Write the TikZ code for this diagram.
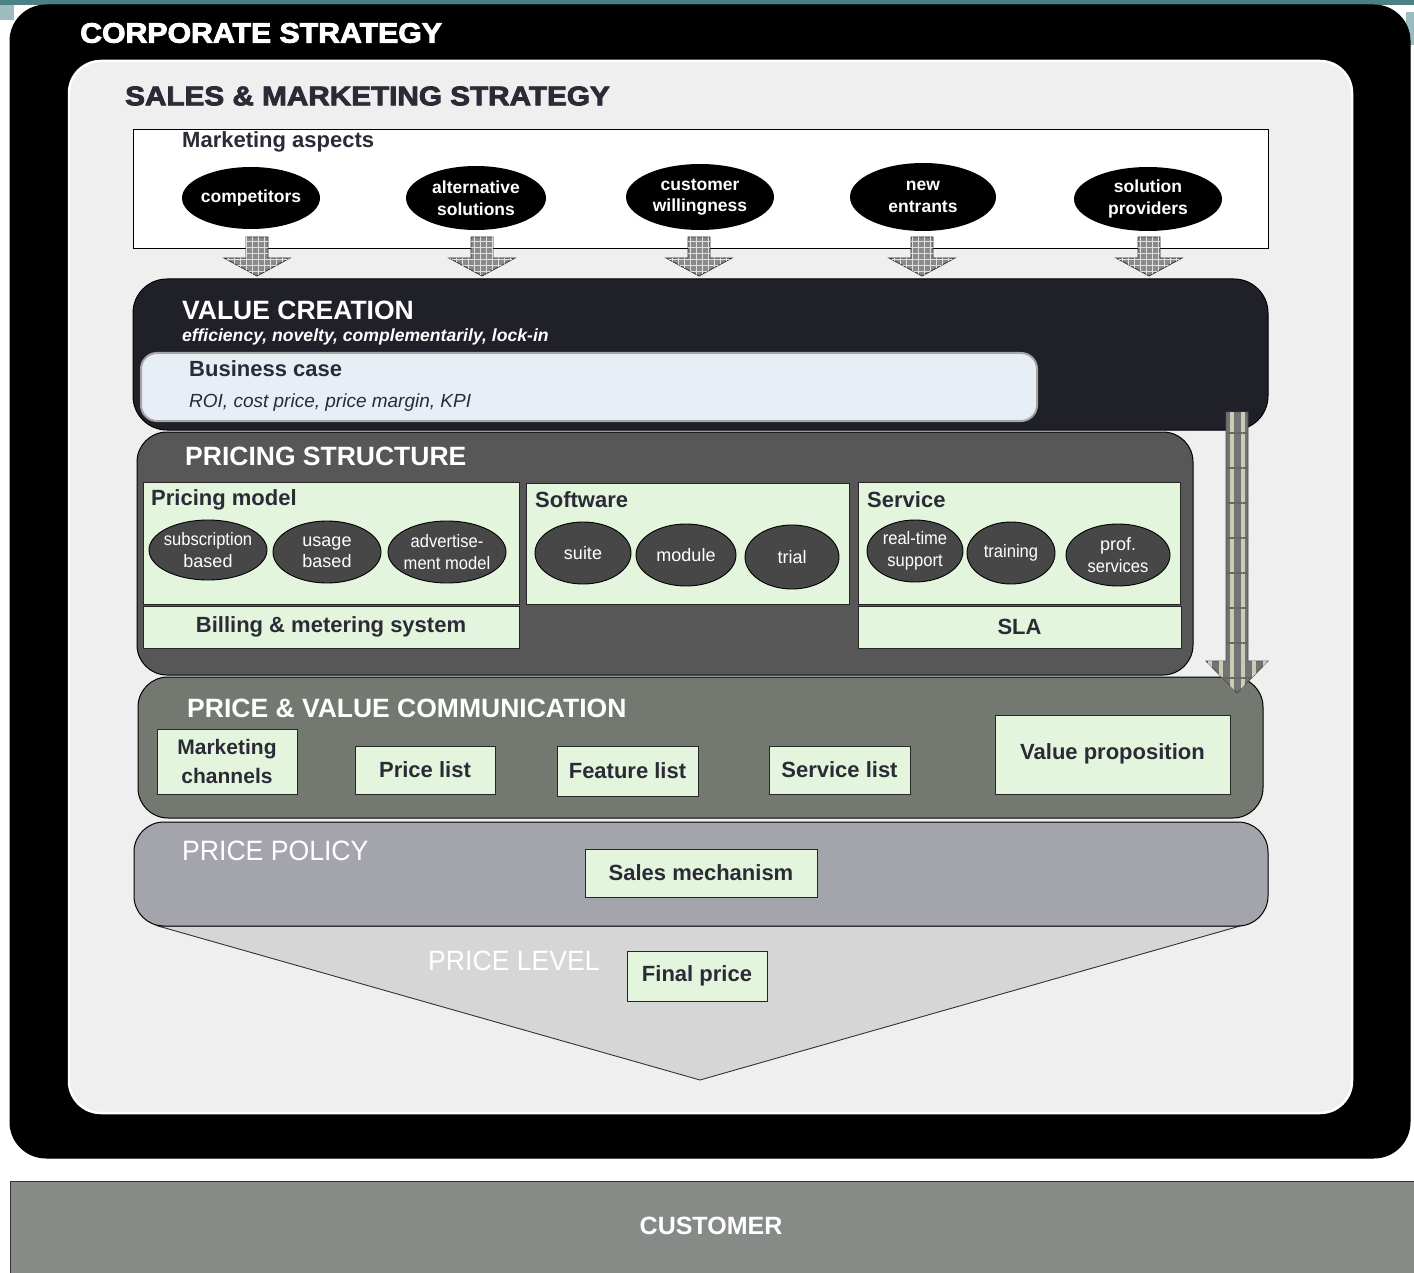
\documentclass[tikz,border=0pt]{standalone}
\usepackage{fontspec}
\setmainfont{Liberation Sans}
\newfontfamily\heavy[FakeBold=3]{Liberation Sans}
\usepackage{graphicx}
\usetikzlibrary{shapes.geometric,patterns.meta,calc}
\definecolor{teal1}{HTML}{4A8086}
\definecolor{teal2}{HTML}{9CBDC0}
\definecolor{innergray}{HTML}{EFEFEF}
\definecolor{vcnavy}{HTML}{202028}
\definecolor{bcblue}{HTML}{E8EEF6}
\definecolor{psgray}{HTML}{575757}
\definecolor{lgreen}{HTML}{E4F5DD}
\definecolor{ellgray}{HTML}{474747}
\definecolor{pvcgray}{HTML}{737870}
\definecolor{ppgray}{HTML}{A4A4AC}
\definecolor{plgray}{HTML}{D6D6D6}
\definecolor{custgray}{HTML}{878B88}
\definecolor{darktext}{HTML}{2B2B38}
\definecolor{arrgray}{HTML}{8A8A8A}
\definecolor{stripe}{HTML}{C9CDB8}
\newcommand{\blockpath}[6]{(#1-#5,#2) -- (#1+#5,#2) -- (#1+#5,#3) -- (#1+#6,#3) -- (#1,#4) -- (#1-#6,#3) -- (#1-#5,#3) -- cycle}
\tikzset{
  container/.style={draw=black, line width=1pt, anchor=north west, inner sep=0pt, outer sep=0pt},
  greenbox/.style={draw=black!85, fill=lgreen, line width=0.9pt, anchor=north west, inner sep=0pt, outer sep=0pt},
  gtext/.style={text=darktext, font=\fontsize{22}{25}\selectfont\bfseries, inner sep=0pt, align=center},
  gtitle/.style={anchor=west, text=darktext, font=\fontsize{22}{25}\selectfont\bfseries, inner sep=0pt},
  wtitle/.style={anchor=west, text=white, font=\fontsize{26.5}{30}\selectfont\bfseries, inner sep=0pt},
  bell/.style={ellipse, fill=black, inner sep=0pt},
  btext/.style={text=white, font=\fontsize{17.5}{21.5}\selectfont\bfseries, align=center, inner sep=0pt},
  gell/.style={ellipse, draw=black, line width=0.9pt, fill=ellgray, inner sep=0pt},
  etext/.style={text=white, font=\fontsize{18}{21.5}\selectfont, align=center, inner sep=0pt},
  harrow/.style={fill=arrgray, draw=black!80, line width=0.8pt,
    postaction={pattern={Lines[angle=0,distance=6pt,line width=0.9pt]}, pattern color=white!75!gray},
    postaction={pattern={Lines[angle=90,distance=6pt,line width=0.9pt]}, pattern color=white!75!gray}},
  varrow/.style={fill=black!55, draw=black!70, line width=0.8pt,
    postaction={pattern={Lines[angle=90,distance=11pt,line width=4pt]}, pattern color=stripe},
    postaction={pattern={Lines[angle=0,distance=35pt,line width=1.5pt]}, pattern color=black!60}},
}
\begin{document}
\begin{tikzpicture}[x=1pt,y=-1pt]
\useasboundingbox (0,0) rectangle (1414,1273);
\fill[white] (0,0) rectangle (1414,1273);
% top band
\fill[teal1] (0,0) rectangle (1414,5);
\fill[teal2] (0,5) rectangle (14,20);
\fill[teal2] (1406,12) rectangle (1414,45);
% corporate frame
\node[container, fill=black, rounded corners=36pt, minimum width=1400, minimum height=1153] (corp) at (10,5) {};
\node[anchor=west, text=white, inner sep=0pt, font=\heavy\bfseries\fontsize{28}{32}\selectfont] (corpt) at (80,33) {\scalebox{1.08}[1]{CORPORATE STRATEGY}};
% sales & marketing
\node[container, fill=innergray, draw=white, line width=2.5pt, rounded corners=32pt, minimum width=1283, minimum height=1052] (sales) at (69,61) {};
\node[anchor=west, text=darktext, inner sep=0pt, font=\heavy\bfseries\fontsize{27}{31}\selectfont] (salest) at (125,96) {\scalebox{1.1}[1]{SALES \& MARKETING STRATEGY}};
% marketing aspects
\node[container, fill=white, line width=0.8pt, minimum width=1135, minimum height=119] (mkt) at (133,129) {};
\node[gtitle] (mktt) at (182,142) {Marketing aspects};
\node[bell, minimum width=138, minimum height=62] (comp) at (251,198) {};
\node[btext] (compt) at (comp.center) {competitors};
\node[bell, minimum width=140, minimum height=64] (alt) at (476,198) {};
\node[btext] (altt) at (alt.center) {alternative\\solutions};
\node[bell, minimum width=148, minimum height=66] (cw) at (700,197) {};
\node[btext] (cwt) at (cw.center) {customer\\willingness};
\node[bell, minimum width=146, minimum height=68] (ne) at (923,197) {};
\node[btext] (net) at (ne.center) {new\\entrants};
\node[bell, minimum width=148, minimum height=64] (sp) at (1148,199) {};
\node[btext] (spt) at (sp.center) {solution\\providers};
% hatched arrows
\foreach \ax in {257,482,699,922,1149}{
  \path[harrow] \blockpath{\ax}{237}{258}{276}{11}{33};
}
% value creation
\node[container, fill=vcnavy, rounded corners=34pt, minimum width=1135, minimum height=151] (vc) at (133,279) {};
\node[wtitle] (vct) at (182,310) {VALUE CREATION};
\node[anchor=west, text=white, inner sep=0pt, font=\fontsize{17.6}{20}\selectfont\bfseries\itshape] (vcs) at (182,337) {efficiency, novelty, complementarily, lock-in};
\node[container, fill=bcblue, draw=gray!70, line width=2pt, rounded corners=16pt, minimum width=896, minimum height=68] (bc) at (141,353) {};
\node[gtitle] (bct) at (189,369) {Business case};
\node[anchor=west, text=darktext, inner sep=0pt, font=\fontsize{19}{22}\selectfont\itshape] (bcs) at (189,403) {ROI, cost price, price margin, KPI};
% pricing structure
\node[container, fill=psgray, rounded corners=30pt, minimum width=1056, minimum height=243] (ps) at (137,432) {};
\node[wtitle] (pst) at (185,456) {PRICING STRUCTURE};
\node[greenbox, minimum width=376, minimum height=122] (pm) at (143,482) {};
\node[gtitle] (pmt) at (151,500) {Pricing model};
\node[gell, minimum width=118, minimum height=60] (sub) at (208,550) {};
\node[etext] (subt) at (sub.center) {\scalebox{0.92}[1]{subscription}\\based};
\node[gell, minimum width=108, minimum height=62] (usage) at (327,552) {};
\node[etext] (usaget) at (usage.center) {usage\\based};
\node[gell, minimum width=118, minimum height=62] (adv) at (447,552) {};
\node[etext] (advt) at (adv.center) {\scalebox{0.92}[1]{advertise-}\\\scalebox{0.92}[1]{ment model}};
\node[greenbox, minimum width=376, minimum height=42] (bill) at (143,606) {};
\node[gtext] (billt) at (bill.center) {Billing \& metering system};
\node[greenbox, minimum width=323, minimum height=121] (sw) at (526,483) {};
\node[gtitle] (swt) at (535,500) {Software};
\node[gell, minimum width=96, minimum height=62] (suite) at (583,553) {};
\node[etext] (suitet) at (suite.center) {suite};
\node[gell, minimum width=100, minimum height=62] (module) at (686,555) {};
\node[etext] (modulet) at (module.center) {module};
\node[gell, minimum width=94, minimum height=64] (trial) at (792,557) {};
\node[etext] (trialt) at (trial.center) {trial};
\node[greenbox, minimum width=322, minimum height=122] (sv) at (858,482) {};
\node[gtitle] (svt) at (867,500) {Service};
\node[gell, minimum width=96, minimum height=62] (rts) at (915,551) {};
\node[etext] (rtst) at (rts.center) {\scalebox{0.92}[1]{real-time}\\\scalebox{0.92}[1]{support}};
\node[gell, minimum width=88, minimum height=62] (train) at (1011,553) {};
\node[etext] (traint) at (train.center) {\scalebox{0.92}[1]{training}};
\node[gell, minimum width=104, minimum height=62] (prof) at (1118,555) {};
\node[etext] (proft) at (prof.center) {prof.\\\scalebox{0.92}[1]{services}};
\node[greenbox, minimum width=323, minimum height=42] (sla) at (858,606) {};
\node[gtext] (slat) at (sla.center) {SLA};
% price level (drawn under price policy)
\draw[fill=plgray, draw=black!80, line width=0.9pt] (158,926) -- (1240,926) -- (700,1080) -- cycle;
% price & value communication
\node[container, fill=pvcgray, rounded corners=30pt, minimum width=1125, minimum height=141] (pvc) at (138,677) {};
\node[wtitle] (pvct) at (187,708) {PRICE \& VALUE COMMUNICATION};
\node[greenbox, minimum width=140, minimum height=65] (mc) at (157,729) {};
\node[gtext, font=\fontsize{21}{29}\selectfont\bfseries] (mct) at (mc.center) {Marketing\\channels};
\node[greenbox, minimum width=140, minimum height=48] (pl) at (355,746) {};
\node[gtext] (plt) at (pl.center) {Price list};
\node[greenbox, minimum width=141, minimum height=50] (fl) at (557,746) {};
\node[gtext] (flt) at (fl.center) {Feature list};
\node[greenbox, minimum width=141, minimum height=48] (sl) at (769,746) {};
\node[gtext] (slt) at (sl.center) {Service list};
\node[greenbox, minimum width=235, minimum height=79] (vp) at (995,715) {};
\node[gtext] (vpt) at ($(vp.center)+(0,-1)$) {Value proposition};
% price policy
\node[container, fill=ppgray, rounded corners=30pt, minimum width=1134, minimum height=104] (pp) at (134,822) {};
\node[anchor=west, text=white, inner sep=0pt, font=\fontsize{28}{32}\selectfont] (ppt) at (182,851) {\scalebox{0.95}[1]{PRICE POLICY}};
\node[greenbox, minimum width=232, minimum height=48] (sm) at (585,849) {};
\node[gtext] (smt) at (sm.center) {Sales mechanism};
\node[anchor=west, text=white, inner sep=0pt, font=\fontsize{28}{32}\selectfont] (plt2) at (428,961) {\scalebox{0.95}[1]{PRICE LEVEL}};
\node[greenbox, minimum width=140, minimum height=50] (fp) at (627,951) {};
\node[gtext] (fpt) at (fp.center) {Final price};
% vertical arrow from value creation to price & value communication
\path[varrow] \blockpath{1237}{412}{661}{693}{11}{31};
% customer
\node[container, fill=custgray, draw=black!80, line width=1pt, minimum width=1404, minimum height=110] (cust) at (10,1181) {};
\node[text=white, inner sep=0pt, font=\fontsize{25}{29}\selectfont\bfseries] (custt) at (711,1226) {CUSTOMER};
\end{tikzpicture}
\end{document}
